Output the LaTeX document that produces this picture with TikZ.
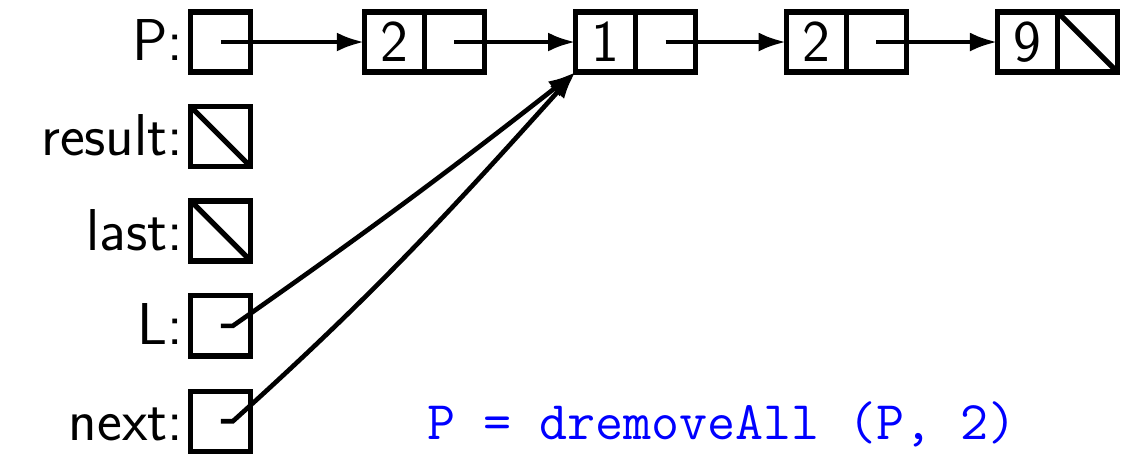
\documentclass[tikz,border=0pt]{standalone}
\usepackage{tikz}
\usetikzlibrary{positioning,arrows.meta}

\begin{document}
\begin{tikzpicture}[
    cell/.style={
        rectangle, draw, line width=2.5pt, outer sep=0pt,
        minimum size=1cm, inner sep=0pt,
        font=\sffamily\fontsize{28}{32}\selectfont
    },
    nilcell/.style={cell,
        path picture={\draw[line width=2.5pt] (path picture bounding box.north west) -- (path picture bounding box.south east);}
    },
    ptr/.style={-{Latex[length=13pt,width=9pt]}, line width=2.2pt},
    lbl/.style={font=\sffamily\fontsize{28}{32}\selectfont, inner sep=2pt, text height=18pt, text depth=0pt}
]
\useasboundingbox (0,0) rectangle (18.78,-7.58);

% Variables
\node[cell]    (P)      at (3.68,-0.70) {};
\node[nilcell] (result) at (3.68,-2.28) {};
\node[nilcell] (last)   at (3.68,-3.85) {};
\node[cell]    (L)      at (3.68,-5.43) {};
\node[cell]    (next)   at (3.68,-7.02) {};

\node[lbl, left=0.05cm of P]      (lP)      {P:};
\node[lbl, left=0.05cm of result] (lresult) {result:};
\node[lbl, left=0.05cm of last]   (llast)   {last:};
\node[lbl, left=0.05cm of L]      (lL)      {L:};
\node[lbl, left=0.05cm of next]   (lnext)   {next:};

% List cells
\node[cell] (v1) at (6.57,-0.70)  {2};
\node[cell, right=0pt of v1] (n1) {};
\node[cell] (v2) at (10.09,-0.70) {1};
\node[cell, right=0pt of v2] (n2) {};
\node[cell] (v3) at (13.60,-0.70) {2};
\node[cell, right=0pt of v3] (n3) {};
\node[cell] (v4) at (17.12,-0.70) {9};
\node[nilcell, right=0pt of v4] (n4) {};

% Pointers
\draw[ptr] (P.center) -- (v1.west);
\draw[ptr] (n1.center) -- (v2.west);
\draw[ptr] (n2.center) -- (v3.west);
\draw[ptr] (n3.center) -- (v4.west);
\draw[ptr] (L.center) -- ++(0.2,0) to[out=35,in=218] (v2.south west);
\draw[ptr] (next.center) -- ++(0.2,0) to[out=42,in=228] (v2.south west);

\node[text=blue, font=\ttfamily\fontsize{25.8}{30}\selectfont] (call) at (12.03,-7.08) {P = dremoveAll (P, 2)};

\end{tikzpicture}
\end{document}
